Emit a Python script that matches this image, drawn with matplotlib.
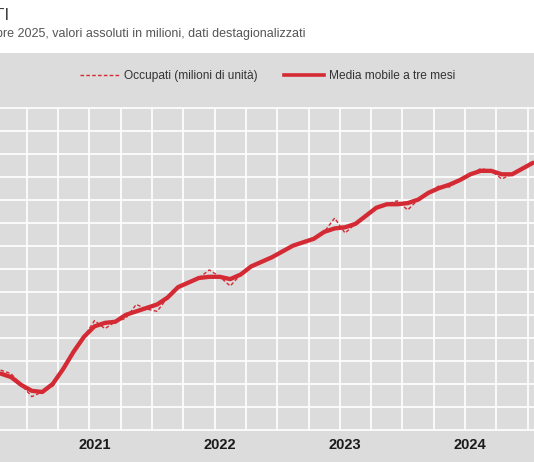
import matplotlib
matplotlib.use("Agg")
import matplotlib.pyplot as plt
import numpy as np
from matplotlib.lines import Line2D
from matplotlib.patches import Rectangle

# mesi da ottobre 2020 a gennaio 2025 (indice: gennaio 2020 = 0)
mesi = list(range(9, 61))

occupati = [22.32, 22.29, 22.19, 22.09, 22.13, 22.18, 22.33, 22.48, 22.61, 22.75,
            22.68, 22.74, 22.77, 22.89, 22.85, 22.83, 22.95, 23.04, 23.08, 23.12,
            23.19, 23.13, 23.05, 23.15, 23.22, 23.26, 23.30, 23.35, 23.40, 23.43,
            23.46, 23.52, 23.64, 23.51, 23.59, 23.66, 23.73, 23.76, 23.79, 23.71,
            23.80, 23.86, 23.92, 23.91, 23.97, 24.02, 24.07, 24.05, 23.98, 24.02,
            24.07, 24.12]

media_mobile = [22.29, 22.26, 22.19, 22.14, 22.13, 22.20, 22.33, 22.48, 22.61, 22.70,
                22.73, 22.74, 22.80, 22.83, 22.86, 22.89, 22.95, 23.04, 23.08, 23.12,
                23.13, 23.13, 23.11, 23.15, 23.22, 23.26, 23.30, 23.35, 23.40, 23.43,
                23.46, 23.52, 23.55, 23.56, 23.59, 23.66, 23.73, 23.76, 23.76, 23.77,
                23.80, 23.86, 23.90, 23.93, 23.97, 24.02, 24.05, 24.05, 24.02, 24.02,
                24.07, 24.12]

anni = ["2021", "2022", "2023", "2024"]
pos_anni = [18, 30, 42, 54]

ROSSO = "#d42a34"
GRIGIO = "#dcdcdc"
FONT = ["Liberation Sans", "DejaVu Sans"]

W, H = 534, 462
fig = plt.figure(figsize=(W / 100, H / 100), dpi=100)
fig.patch.set_facecolor("white")

# pannello grigio
fig.add_artist(Rectangle((0, 0), 1, (H - 53) / H, transform=fig.transFigure,
                         facecolor=GRIGIO, edgecolor="none", zorder=0))

# area del grafico in pixel: y da 107.5 a 430, x scala mese = 10.44 px
px_mese = 10.44
x_lug21 = 94.5
xmin = 18 - x_lug21 / px_mese
xmax = 18 + (W - x_lug21) / px_mese
ax = fig.add_axes([0, (H - 430) / H, 1, (430 - 107.5) / H])
ax.set_facecolor(GRIGIO)
ax.set_xlim(xmin, xmax)
ax.set_ylim(21.8, 24.6)
for s in ax.spines.values():
    s.set_visible(False)
ax.set_xticks([])
ax.set_yticks([])

for yv in np.arange(21.8, 24.61, 0.2):
    ax.axhline(yv, color="white", lw=1.2, zorder=1, clip_on=False)
for xv in np.arange(8.5, 61, 3):
    ax.axvline(xv, color="white", lw=1.2, zorder=1)

ax.plot(mesi, occupati, color=ROSSO, lw=1.0, linestyle=(0, (2.6, 1.6)), zorder=2)
ax.plot(mesi, media_mobile, color=ROSSO, lw=3.1, solid_capstyle="round", zorder=3)

# etichette anni sotto l'asse
y_anni = 21.8 - 15 * 2.8 / 322.5
for a, p in zip(anni, pos_anni):
    ax.text(p, y_anni, a, ha="center", va="center", fontsize=10.5,
            fontweight="bold", color="#1a1a1a", family=FONT, clip_on=False)

# legenda
leg_handles = [Line2D([], [], color=ROSSO, lw=1.0, linestyle=(0, (2.6, 1.6))),
               Line2D([], [], color=ROSSO, lw=2.6)]
leg = fig.legend(leg_handles, ["Occupati (milioni di unità)", "Media mobile a tre mesi"],
                 loc="center", bbox_to_anchor=(267.5 / W, 1 - 76 / H), ncol=2,
                 frameon=False, prop={"family": FONT, "size": 8.6},
                 handlelength=3.35, handletextpad=0.38, columnspacing=2.2,
                 borderpad=0)
for t in leg.get_texts():
    t.set_color("#333333")

# titolo e sottotitolo (tagliati a sinistra)
fig.text(9 / W, 1 - 16 / H, "OCCUPATI", ha="right", va="center", fontsize=12.5,
         color="#404040", family=FONT)
fig.text(306 / W, 1 - 34 / H,
         "Settembre 2020 - settembre 2025, valori assoluti in milioni, dati destagionalizzati",
         ha="right", va="center", fontsize=9.0, color="#555555", family=FONT)

fig.savefig("out.png", dpi=100)
